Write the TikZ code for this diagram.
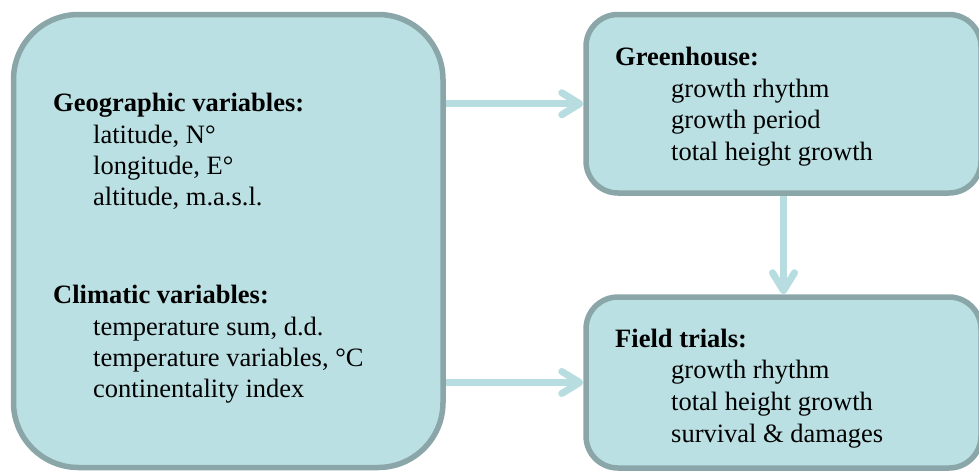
\documentclass[tikz,border=0pt]{standalone}
\usepackage{fontspec}
\setmainfont{Liberation Serif}
\usetikzlibrary{arrows.meta}
\definecolor{boxfill}{RGB}{187,224,227}
\definecolor{boxline}{RGB}{139,166,169}
\definecolor{arrowc}{RGB}{183,221,225}
\begin{document}
\begin{tikzpicture}[x=1pt,y=-1pt,
  panel/.style={draw=boxline, fill=boxfill, line width=5.5pt, inner sep=0pt},
  flow/.style={draw=arrowc, line width=7pt, -{Straight Barb[length=18pt,width=22pt,round]}},
  head/.style={anchor=base west, font=\fontsize{26.5}{31}\selectfont\bfseries, inner sep=0pt},
  item/.style={anchor=base west, font=\fontsize{26.5}{31}\selectfont, inner sep=0pt}]
\useasboundingbox (0,0) rectangle (979,472);
\clip (0,0) rectangle (979,472);
\node[panel, rounded corners=65pt, minimum width=429.5pt, minimum height=453pt] (geo) at (228.25,241) {};
\node[panel, rounded corners=32pt, minimum width=395pt, minimum height=178.5pt] (gh) at (783.5,103.75) {};
\node[panel, rounded corners=32pt, minimum width=395pt, minimum height=171pt] (ft) at (783.5,382.5) {};
\draw[flow] (geo.east |- gh.west) -- (gh.west);
\draw[flow] (geo.east |- ft.west) -- (ft.west);
\draw[flow] (gh.south) -- (ft.north);
\node[head] (geoh) at (53,111) {Geographic variables:};
\node[item] (lat) at (93,143) {latitude, N°};
\node[item] (lon) at (93,174) {longitude, E°};
\node[item] (alt) at (93,205) {altitude, m.a.s.l.};
\node[head] (clih) at (53,303) {Climatic variables:};
\node[item] (tsum) at (93,335) {temperature sum, d.d.};
\node[item] (tvar) at (93,366) {temperature variables, °C};
\node[item] (cont) at (93,397) {continentality index};
\node[head] (ghh) at (615,65) {Greenhouse:};
\node[item] (gh1) at (671,97) {growth rhythm};
\node[item] (gh2) at (671,128) {growth period};
\node[item] (gh3) at (671,160) {total height growth};
\node[head] (fth) at (615,347) {Field trials:};
\node[item] (ft1) at (671,378) {growth rhythm};
\node[item] (ft2) at (671,410) {total height growth};
\node[item] (ft3) at (671,442) {survival \& damages};
\end{tikzpicture}
\end{document}
